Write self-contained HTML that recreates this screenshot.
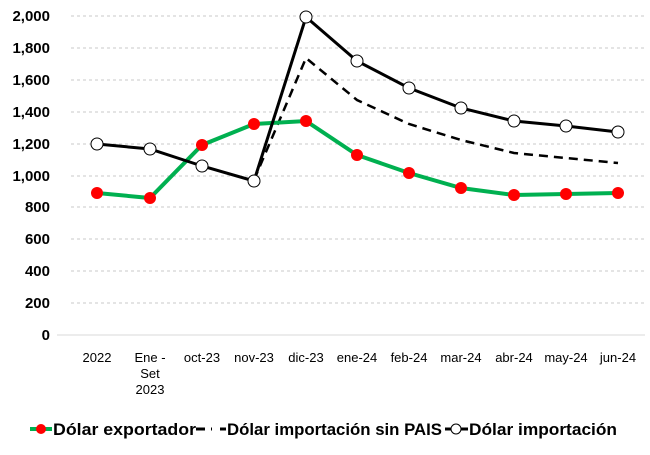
<!DOCTYPE html><html><head><style>body{margin:0;background:#fff}</style></head><body>
<svg width="650" height="450" xmlns="http://www.w3.org/2000/svg" font-family="Liberation Sans, sans-serif">
<g stroke="#c8c8c8" stroke-width="1" stroke-dasharray="3,3">
<line x1="71" x2="645" y1="16" y2="16"/><line x1="71" x2="645" y1="48" y2="48"/><line x1="71" x2="645" y1="80" y2="80"/><line x1="71" x2="645" y1="112" y2="112"/><line x1="71" x2="645" y1="144" y2="144"/><line x1="71" x2="645" y1="176" y2="176"/><line x1="71" x2="645" y1="207" y2="207"/><line x1="71" x2="645" y1="239" y2="239"/><line x1="71" x2="645" y1="271" y2="271"/><line x1="71" x2="645" y1="303" y2="303"/>
</g>
<line x1="57" x2="645" y1="335" y2="335" stroke="#d9d9d9"/>
<g font-size="15" font-weight="bold" text-anchor="end" fill="#000">
<text x="50" y="21">2,000</text><text x="50" y="53">1,800</text><text x="50" y="85">1,600</text><text x="50" y="117">1,400</text><text x="50" y="149">1,200</text><text x="50" y="181">1,000</text><text x="50" y="212">800</text><text x="50" y="244">600</text><text x="50" y="276">400</text><text x="50" y="308">200</text><text x="50" y="340">0</text>
</g>
<g font-size="13" text-anchor="middle" fill="#000">
<text x="97" y="362">2022</text><text x="150" y="362">Ene -</text><text x="150" y="378">Set</text><text x="150" y="394">2023</text><text x="202" y="362">oct-23</text><text x="254" y="362">nov-23</text><text x="306" y="362">dic-23</text><text x="357" y="362">ene-24</text><text x="409" y="362">feb-24</text><text x="461" y="362">mar-24</text><text x="514" y="362">abr-24</text><text x="566" y="362">may-24</text><text x="618" y="362">jun-24</text>
</g>
<polyline fill="none" stroke="#000" stroke-width="2.5" stroke-dasharray="9,6" points="254,180 306,58 357,100 409,124 461,140 514,153 566,158 618,163"/>
<polyline fill="none" stroke="#00b050" stroke-width="4" points="97,193 150,198 202,145 254,124 306,121 357,155 409,173 461,188 514,195 566,194 618,193"/>
<g fill="#ff0000"><circle cx="97" cy="193" r="6"/><circle cx="150" cy="198" r="6"/><circle cx="202" cy="145" r="6"/><circle cx="254" cy="124" r="6"/><circle cx="306" cy="121" r="6"/><circle cx="357" cy="155" r="6"/><circle cx="409" cy="173" r="6"/><circle cx="461" cy="188" r="6"/><circle cx="514" cy="195" r="6"/><circle cx="566" cy="194" r="6"/><circle cx="618" cy="193" r="6"/></g>
<polyline fill="none" stroke="#000" stroke-width="3" points="97,144 150,149 202,166 254,181 306,17 357,61 409,88 461,108 514,121 566,126 618,132"/>
<g fill="#fff" stroke="#000" stroke-width="1"><circle cx="97" cy="144" r="6"/><circle cx="150" cy="149" r="6"/><circle cx="202" cy="166" r="6"/><circle cx="254" cy="181" r="6"/><circle cx="306" cy="17" r="6"/><circle cx="357" cy="61" r="6"/><circle cx="409" cy="88" r="6"/><circle cx="461" cy="108" r="6"/><circle cx="514" cy="121" r="6"/><circle cx="566" cy="126" r="6"/><circle cx="618" cy="132" r="6"/></g>
<line x1="30" x2="52" y1="429" y2="429" stroke="#00b050" stroke-width="4"/><circle cx="41" cy="429" r="5" fill="#ff0000"/>
<line x1="196" x2="212" y1="429" y2="429" stroke="#000" stroke-width="3" stroke-dasharray="9,6"/>
<line x1="220" x2="226" y1="429" y2="429" stroke="#000" stroke-width="3"/>
<line x1="445" x2="468" y1="429" y2="429" stroke="#000" stroke-width="3"/><circle cx="456" cy="429" r="5" fill="#fff" stroke="#000"/>
<g font-size="17" font-weight="bold" fill="#000">
<text x="53" y="435" textLength="143" lengthAdjust="spacingAndGlyphs">Dólar exportador</text>
<text x="227" y="435" textLength="215" lengthAdjust="spacingAndGlyphs">Dólar importación sin PAIS</text>
<text x="469" y="435" textLength="148" lengthAdjust="spacingAndGlyphs">Dólar importación</text>
</g>
</svg></body></html>
